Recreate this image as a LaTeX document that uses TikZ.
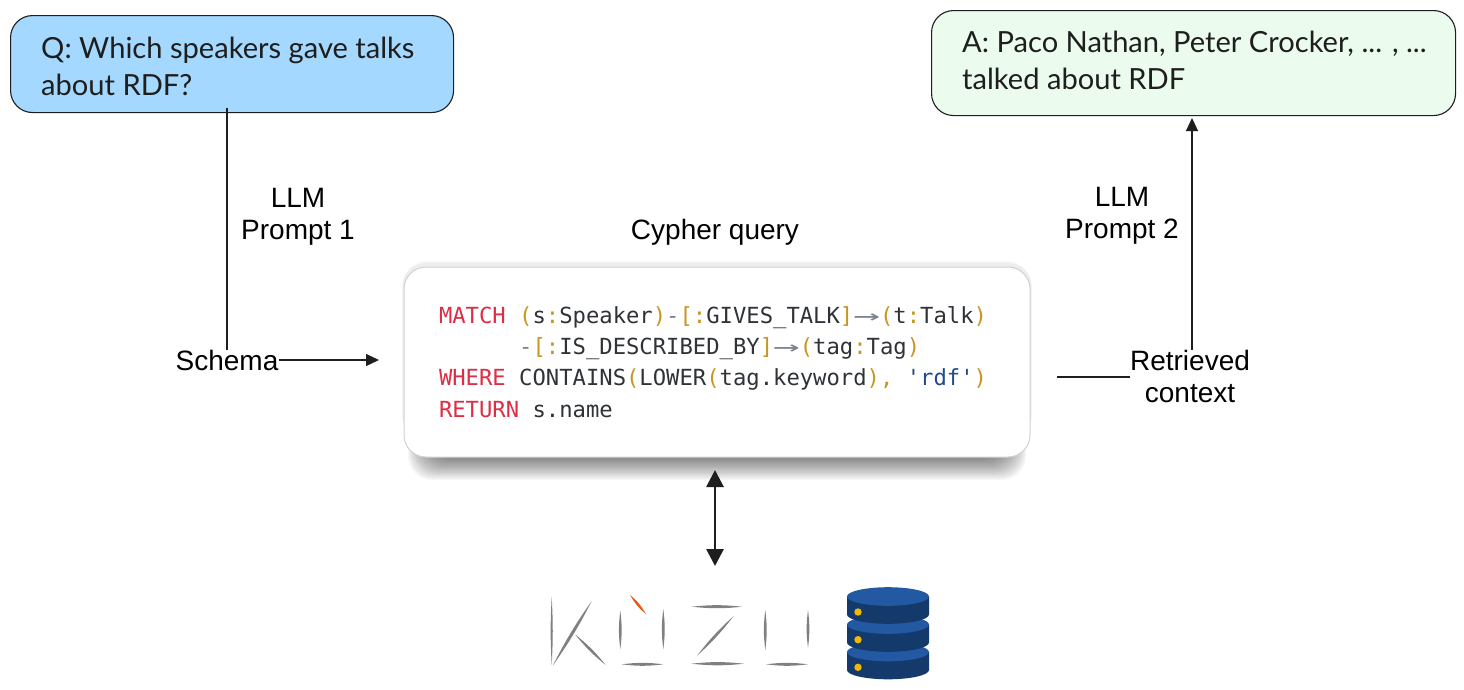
\documentclass[tikz,border=0pt]{standalone}
\usepackage{fontspec}
\setmainfont{Liberation Sans}
\newfontfamily\bubblefont{Lato}
\setmonofont{DejaVu Sans Mono}
\usetikzlibrary{arrows.meta}
\definecolor{kwred}{HTML}{DC2E45}
\definecolor{punc}{HTML}{C8961E}
\definecolor{ink}{HTML}{2F3337}
\definecolor{arrowgrey}{HTML}{7A8290}
\definecolor{strblue}{HTML}{1F4B8E}
\definecolor{qblue}{HTML}{A5D8FF}
\definecolor{agreen}{HTML}{EBFBEE}
\definecolor{edge}{HTML}{1E1E1E}
\definecolor{dbdark}{HTML}{14396B}
\definecolor{dblight}{HTML}{2358A3}
\definecolor{dbdot}{HTML}{F5B800}
\definecolor{logogrey}{HTML}{808080}
\definecolor{logoorange}{HTML}{E8590C}
\newcommand{\kw}[1]{\textcolor{kwred}{#1}}
\newcommand{\pu}[1]{\textcolor{punc}{#1}}
\newcommand{\ar}{\textcolor{arrowgrey}{\scalebox{2}[1]{→}}}
\newcommand{\natspace}{\spaceskip=0pt\relax\xspaceskip=0pt\relax}
\newcommand{\lens}[6]{\fill[#5] (#1,#2) to[bend left=#6] (#3,#4) to[bend left=#6] (#1,#2);}
\newcommand{\tier}[1]{%
  \fill[dbdark] (847,#1-14) -- (847,#1+4) arc[start angle=180,end angle=360,x radius=41,y radius=-9.3] -- (929,#1-14) -- cycle;
  \fill[dblight] (888,#1-14) ellipse[x radius=41,y radius=9.3];}
\tikzset{
  bubble/.style={draw=edge,line width=1.1pt,rounded corners=22pt,anchor=north west,inner sep=0pt},
  bubbletext/.style={font=\bubblefont\fontsize{29.1}{37}\selectfont,text=edge,align=left,anchor=west,inner sep=0pt},
  lbl/.style={font=\fontsize{28}{32}\selectfont,text=black,align=center,inner sep=0pt},
  wire/.style={draw=edge,line width=1.2pt},
  arrowed/.style={wire,-{Triangle[length=13pt,width=12pt]}},
  card/.style={fill=white,draw=black!18,line width=1pt,rounded corners=22pt,align=left,text=ink,inner sep=0pt,
    font=\ttfamily\fontsize{22.2}{31.3}\selectfont}
}
\begin{document}
\begin{tikzpicture}[x=1pt,y=-1pt]
\useasboundingbox (0,0) rectangle (1464,689);
% shadow
\fill[black,opacity=0.04,rounded corners=24pt] (402,263) rectangle (1032,440);
\fill[black,opacity=0.03,rounded corners=24pt] (403,261) rectangle (1031,440);
\foreach \i in {0,...,19}{
  \fill[black,opacity=0.033,rounded corners=24pt] (408+\i*1.1,300) rectangle (1026-\i*1.1,480-\i*1.2);
}
\node[bubble,fill=qblue,minimum width=443pt,minimum height=97pt] (q) at (10,15) {};
\node[bubbletext] (qt) at (41,66.5) {Q: Which speakers gave talks\\about RDF?};
\node[bubble,fill=agreen,minimum width=524pt,minimum height=105pt] (a) at (931,10) {};
\node[bubbletext] (at) at (962,60.5) {A: Paco Nathan, Peter Crocker, ... , ...\\talked about RDF};
\node[lbl] (p1) at (298,217) {LLM\\Prompt 1};
\node[lbl] (p2) at (1122,216) {LLM\\Prompt 2};
\node[lbl] (cq) at (715,232) {Cypher query};
\node[lbl] (schema) at (227,360) {Schema};
\node[lbl] (ctx) at (1190,376) {Retrieved\\ context};
\node[card,minimum width=626pt,minimum height=190pt,text width=556pt] (code) at (717,362) {\natspace
\kw{MATCH} \pu{(}s\pu{:}Speaker\pu{)}\textcolor{arrowgrey}{-}\pu{[:}GIVES\_TALK\pu{]}\ar\pu{(}t\pu{:}Talk\pu{)}\\
\phantom{MATCH} \textcolor{arrowgrey}{-}\pu{[:}IS\_DESCRIBED\_BY\pu{]}\ar\pu{(}tag\pu{:}Tag\pu{)}\\
\kw{WHERE} CONTAINS\pu{(}LOWER\pu{(}tag.keyword\pu{),} \textcolor{strblue}{'rdf'}\pu{)}\\
\kw{RETURN} s.name};
% connectors
\coordinate (qfoot) at (227,108);
\coordinate (cin) at (379,360);
\coordinate (cout) at (1057,377);
\coordinate (atip) at (1192,118);
\coordinate (ctop) at (715,470);
\coordinate (cbot) at (715,566);
\draw[wire] (qfoot) -- (schema.north);
\draw[arrowed] (schema.east) -- (cin);
\draw[wire] (cout) -- (ctx.west |- cout);
\draw[arrowed] (ctx.north -| atip) -- (atip);
\draw[wire,line width=2.8pt,{Triangle[length=17pt,width=17pt]}-{Triangle[length=17pt,width=17pt]}] (ctop) -- (cbot);
% logo
\lens{551.7}{596.7}{551.7}{665}{logogrey}{3}
\lens{591.7}{601}{552.7}{665.7}{logogrey}{4}
\lens{575}{634.3}{605.7}{665}{logogrey}{6}
\lens{620.3}{610.7}{620.3}{649.3}{logogrey}{7}
\lens{663.3}{609}{663.3}{649.3}{logogrey}{7}
\lens{621.7}{664.3}{663.3}{664.3}{logogrey}{7}
\lens{630}{595}{646}{614}{logoorange}{10}
\lens{691.7}{606.7}{742}{606.7}{logogrey}{6}
\lens{733.7}{616}{697}{655.7}{logogrey}{5}
\lens{691.3}{663.7}{744}{663.7}{logogrey}{6}
\lens{765.3}{610}{765.3}{650}{logogrey}{7}
\lens{808}{610}{808}{648}{logogrey}{7}
\lens{766}{664.3}{808}{664.3}{logogrey}{7}
% database
\tier{666}
\tier{638.5}
\tier{610.5}
\foreach \y in {612,639.7,667.3}{\fill[dbdot] (858,\y) circle (3.7pt);}
\end{tikzpicture}
\end{document}
